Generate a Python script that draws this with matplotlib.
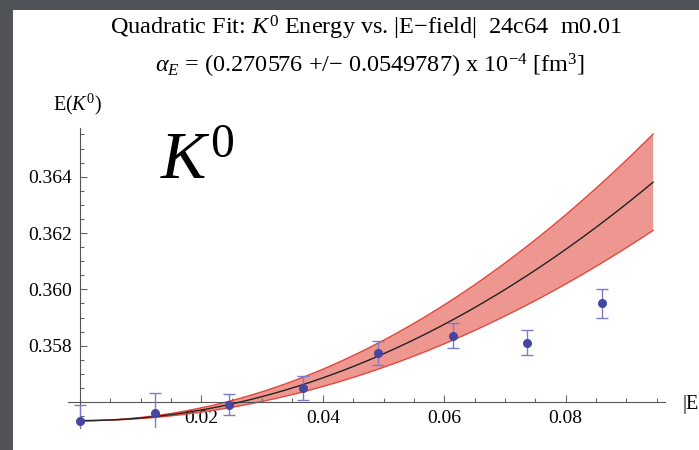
import matplotlib
matplotlib.use("Agg")
import matplotlib.pyplot as plt
from matplotlib.patches import Rectangle
from matplotlib.ticker import MultipleLocator, FixedLocator
import numpy as np

# measured K0 energies vs |E-field|
efield = [0.0, 0.0123, 0.0245, 0.0368, 0.0491, 0.0614, 0.0737, 0.0860]
energy = [0.35534, 0.35562, 0.35590, 0.35650, 0.35773, 0.35835, 0.35811, 0.35950]
energy_err = [0.00055, 0.00069, 0.00037, 0.00044, 0.00043, 0.00044, 0.00045, 0.00051]

# quadratic fit E(x) = e0 + c * x^2, band from c +/- dc
fit_e0 = 0.35534
fit_c = 0.950
fit_dc = 0.192
fit_xmax = 0.0944

x_major = [0.02, 0.04, 0.06, 0.08]
y_major = [0.358, 0.360, 0.362, 0.364]

plt.rcParams["font.family"] = ["Liberation Serif", "DejaVu Serif"]
plt.rcParams["mathtext.fontset"] = "custom"
plt.rcParams["mathtext.rm"] = "Liberation Serif"
plt.rcParams["mathtext.it"] = "Liberation Serif:italic"

W, H = 699, 450
fig = plt.figure(figsize=(W / 100, H / 100), dpi=100, facecolor="#505357")
fig.patches.append(Rectangle((13 / W, 0), 1, 1 - 10 / H, transform=fig.transFigure,
                             facecolor="white", edgecolor="none", zorder=-10))

ax = fig.add_axes([68 / W, 1 - 428 / H, (665 - 68) / W, (428 - 128) / H])
ax.set_zorder(1)
ax.patch.set_visible(False)
ax.set_xlim(-0.00198, 0.09636)
ax.set_ylim(0.35508, 0.36573)

xs = np.linspace(0, fit_xmax, 200)
upper = fit_e0 + (fit_c + fit_dc) * xs ** 2
lower = fit_e0 + (fit_c - fit_dc) * xs ** 2
ax.fill_between(xs, lower, upper, facecolor="#ee9791", edgecolor="none", zorder=1)
ax.plot(xs, upper, color="#e2483d", lw=1.0, zorder=2)
ax.plot(xs, lower, color="#e2483d", lw=1.0, zorder=2)
ax.plot(xs, fit_e0 + fit_c * xs ** 2, color="#222222", lw=1.0, zorder=3)

ax.errorbar(efield, energy, yerr=energy_err, fmt="none", ecolor="#7c7cc4",
            elinewidth=1.0, capsize=4, capthick=1.0, zorder=4)
ax.plot(efield, energy, "o", color="#4347a0", ms=5.5, zorder=5)

for s in ("top", "right"):
    ax.spines[s].set_visible(False)
ax.spines["left"].set_position(("data", 0))
ax.spines["bottom"].set_position(("data", 0.356))
for s in ("left", "bottom"):
    ax.spines[s].set_color("#555555")
    ax.spines[s].set_linewidth(0.8)

ax.xaxis.set_major_locator(FixedLocator(x_major))
ax.yaxis.set_major_locator(FixedLocator(y_major))
ax.xaxis.set_minor_locator(MultipleLocator(0.005))
ax.yaxis.set_minor_locator(MultipleLocator(0.0005))
ax.set_xticklabels([f"{v:.2f}" for v in x_major])
ax.set_yticklabels([f"{v:.3f}" for v in y_major])
ax.tick_params(which="both", direction="in", color="#666666", width=0.8,
               labelsize=14, pad=6)
ax.tick_params(which="major", length=5)
ax.tick_params(which="minor", length=3)

fig.text(366 / W, 1 - 28 / H, r"Quadratic Fit: $K^0$ Energy vs. |E−field|  24c64  m0.01",
         ha="center", va="center", fontsize=17.5)
fig.text(370 / W, 1 - 66 / H,
         r"$\alpha_E$ = (0.270576 +/− 0.0549787) x 10$^{-4}$ [fm$^3$]",
         ha="center", va="center", fontsize=17.5)
fig.text(78 / W, 1 - 104 / H, r"E($K^0$)", ha="center", va="center", fontsize=14.5)
fig.text(683 / W, 1 - 404 / H, "|E", ha="left", va="center", fontsize=14.5)
fig.text(160 / W, 1 - 179 / H, r"$K^0$", ha="left", va="baseline", fontsize=49)

fig.savefig("out.png", dpi=100, facecolor=fig.get_facecolor())
